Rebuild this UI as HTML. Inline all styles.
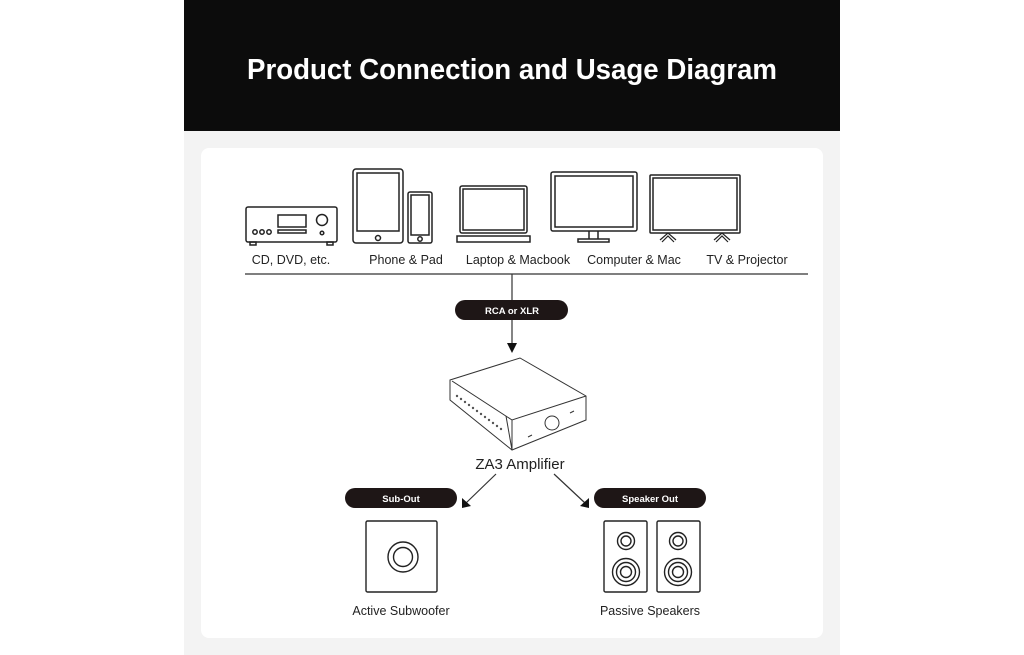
<!DOCTYPE html>
<html><head><meta charset="utf-8"><style>
html,body{margin:0;padding:0;background:#fff;width:1024px;height:655px;overflow:hidden}
svg{display:block}
text{font-family:"Liberation Sans",sans-serif}
</style></head><body>
<svg width="1024" height="655" viewBox="0 0 1024 655" xmlns="http://www.w3.org/2000/svg">
<rect x="184" y="0" width="656" height="131" fill="#0c0c0c"/>
<rect x="184" y="131" width="656" height="524" fill="#f3f3f3"/>
<rect x="201" y="148" width="622" height="490" rx="8" fill="#fff"/>
<text x="512" y="79" fill="#fff" font-size="29" font-weight="bold" text-anchor="middle" textLength="530" lengthAdjust="spacingAndGlyphs">Product Connection and Usage Diagram</text>

<g fill="none" stroke="#222" stroke-width="1.5">
<rect x="246" y="207" width="91" height="35" rx="2"/>
<rect x="278" y="215" width="28" height="12"/>
<rect x="278" y="230" width="28" height="3"/>
<circle cx="255" cy="232" r="2.2"/><circle cx="262" cy="232" r="2.2"/><circle cx="269" cy="232" r="2.2"/>
<circle cx="322" cy="220" r="5.5"/><circle cx="322" cy="233" r="1.8"/>
<rect x="250" y="242" width="6" height="3"/><rect x="327" y="242" width="6" height="3"/>
<rect x="353" y="169" width="50" height="74" rx="3"/>
<rect x="357" y="173" width="42" height="58"/>
<circle cx="378" cy="238" r="2.5"/>
<rect x="408" y="192" width="24" height="51" rx="2"/>
<rect x="411" y="195" width="18" height="40"/>
<circle cx="420" cy="239" r="2.2"/>
<rect x="460" y="186" width="67" height="47" rx="2"/>
<rect x="463" y="189" width="61" height="41"/>
<path d="M457 236 H530 V242 H457 Z"/>
<rect x="551" y="172" width="86" height="59" rx="2"/>
<rect x="555" y="176" width="78" height="51"/>
<path d="M589 231 V239 M598 231 V239"/>
<rect x="578" y="239" width="31" height="3"/>
<rect x="650" y="175" width="90" height="58" rx="1"/>
<rect x="653" y="178" width="84" height="52"/>
<path d="M662 242 L668 236 L674 242 M660 240 L668 233 L676 240" stroke-width="1.2"/>
<path d="M716 242 L722 236 L728 242 M714 240 L722 233 L730 240" stroke-width="1.2"/>
</g>
<g fill="#222" font-size="12.5" text-anchor="middle">
<text x="291" y="264">CD, DVD, etc.</text>
<text x="406" y="264">Phone &amp; Pad</text>
<text x="518" y="264">Laptop &amp; Macbook</text>
<text x="634" y="264">Computer &amp; Mac</text>
<text x="747" y="264">TV &amp; Projector</text>
</g>
<g stroke="#333" stroke-width="1.2" fill="none">
<line x1="245" y1="274" x2="808" y2="274"/>
<line x1="512" y1="274" x2="512" y2="300"/>
<line x1="512" y1="320" x2="512" y2="345"/>
<line x1="496" y1="474" x2="466" y2="503"/>
<line x1="554" y1="474" x2="585" y2="503"/>
</g>
<g fill="#111">
<path d="M507 343 L517 343 L512 353 Z"/>
<path d="M462 508 L462 498 L471 506 Z"/>
<path d="M589 508 L580 506 L589 498 Z"/>
</g>
<rect x="455" y="300" width="113" height="20" rx="10" fill="#1e1616"/>
<text x="512" y="314" fill="#fff" font-size="9.5" font-weight="bold" text-anchor="middle">RCA or XLR</text>
<rect x="345" y="488" width="112" height="20" rx="10" fill="#1e1616"/>
<text x="401" y="502" fill="#fff" font-size="9.5" font-weight="bold" text-anchor="middle">Sub-Out</text>
<rect x="594" y="488" width="112" height="20" rx="10" fill="#1e1616"/>
<text x="650" y="502" fill="#fff" font-size="9.5" font-weight="bold" text-anchor="middle">Speaker Out</text>

<g fill="none" stroke="#333" stroke-width="1">
<path d="M450 380 L520 358 L586 396 L586 420 L512 450 L450 400 Z"/>
<path d="M452 381 L512 420 L586 396"/>
<path d="M512 420 L512 450"/>
<path d="M506 416 L512 450"/>
<circle cx="552" cy="423" r="7"/>
<path d="M528 437 l4 -2 M570 413 l4 -2"/>
</g>
<g fill="#555">
<circle cx="457" cy="396" r="1.2"/><circle cx="461" cy="399" r="1.2"/><circle cx="465" cy="402" r="1.2"/><circle cx="469" cy="405" r="1.2"/><circle cx="473" cy="408" r="1.2"/><circle cx="477" cy="411" r="1.2"/><circle cx="481" cy="414" r="1.2"/><circle cx="485" cy="417" r="1.2"/><circle cx="489" cy="420" r="1.2"/><circle cx="493" cy="423" r="1.2"/><circle cx="497" cy="426" r="1.2"/><circle cx="501" cy="429" r="1.2"/>
</g>
<text x="520" y="469" fill="#222" font-size="15" text-anchor="middle">ZA3 Amplifier</text>

<g fill="none" stroke="#222" stroke-width="1.4">
<rect x="366" y="521" width="71" height="71" rx="1.5"/>
<circle cx="403" cy="557" r="15"/><circle cx="403" cy="557" r="9.5"/>
<rect x="604" y="521" width="43" height="71" rx="1.5"/>
<circle cx="626" cy="541" r="8.5"/><circle cx="626" cy="541" r="5"/>
<circle cx="626" cy="572" r="13.5"/><circle cx="626" cy="572" r="9.5"/><circle cx="626" cy="572" r="5.5"/>
<rect x="657" y="521" width="43" height="71" rx="1.5"/>
<circle cx="678" cy="541" r="8.5"/><circle cx="678" cy="541" r="5"/>
<circle cx="678" cy="572" r="13.5"/><circle cx="678" cy="572" r="9.5"/><circle cx="678" cy="572" r="5.5"/>
</g>
<text x="401" y="615" fill="#222" font-size="12.5" text-anchor="middle">Active Subwoofer</text>
<text x="650" y="615" fill="#222" font-size="12.5" text-anchor="middle">Passive Speakers</text>
</svg>
</body></html>
